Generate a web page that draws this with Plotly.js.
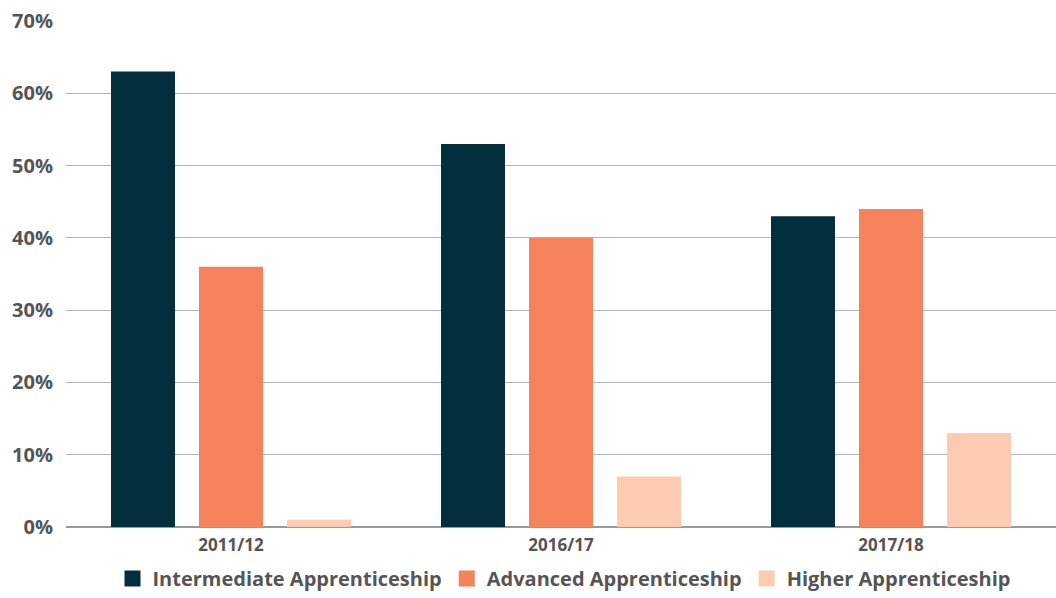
<!DOCTYPE html>
<html>
<head>
<meta charset="utf-8">
<script src="https://cdn.plot.ly/plotly-3.0.1.min.js"></script>
<style>html,body{margin:0;padding:0;background:#fff}#chart{width:1056px;height:598px}</style>
</head>
<body>
<div id="chart"></div>
<script>
const categories = ["2011/12", "2016/17", "2017/18"];
const seriesNames = ["Intermediate Apprenticeship", "Advanced Apprenticeship", "Higher Apprenticeship"];
const intermediate = [63, 53, 43];
const advanced = [36, 40, 44];
const higher = [1, 7, 13];
const yTicks = [0, 10, 20, 30, 40, 50, 60, 70];

const colors = ["#032e3d", "#f4825a", "#fccbb1"];
const seriesValues = [intermediate, advanced, higher];

const bars = seriesValues.map((vals, i) => ({
  type: "bar",
  name: seriesNames[i],
  x: categories,
  y: vals,
  marker: {color: colors[i], line: {width: 0}},
  showlegend: false,
  hoverinfo: "skip"
}));
// legend entries with larger square swatches
const legendEntries = seriesNames.map((n, i) => ({
  type: "scatter",
  mode: "markers",
  name: n,
  x: [categories[0]],
  y: [null],
  marker: {color: colors[i], symbol: "square", size: 17},
  showlegend: true,
  hoverinfo: "skip"
}));

const font = "'Open Sans', 'Noto Sans', sans-serif";
const layout = {
  width: 1056,
  height: 598,
  margin: {l: 66, r: 0, t: 21, b: 71, autoexpand: false},
  paper_bgcolor: "#ffffff",
  plot_bgcolor: "#ffffff",
  barmode: "group",
  bargap: 0.2,
  bargroupgap: 0.273,
  showlegend: true,
  legend: {
    orientation: "h",
    x: 564 / 1056, xanchor: "center", xref: "container",
    y: -4 / 598, yanchor: "bottom", yref: "container",
    font: {family: font, size: 20, color: "#555555", weight: "bold"},
    traceorder: "normal",
    itemclick: false
  },
  xaxis: {
    type: "category",
    tickfont: {family: font, size: 17, color: "#555555", weight: "bold"},
    showgrid: false,
    showline: false,
    zeroline: false,
    ticks: "",
    ticklabelstandoff: 6
  },
  yaxis: {
    range: [0, 70],
    tickvals: yTicks,
    ticktext: yTicks.map(v => v + "%"),
    tickfont: {family: font, size: 20, color: "#555555", weight: "bold"},
    showgrid: true,
    gridcolor: "#b3b3b3",
    gridwidth: 1,
    zeroline: true,
    zerolinecolor: "#999999",
    zerolinewidth: 2,
    showline: false,
    ticks: "",
    ticklabelstandoff: 12
  }
};

Plotly.newPlot("chart", bars.concat(legendEntries), layout, {displayModeBar: false, staticPlot: true});
</script>
</body>
</html>
